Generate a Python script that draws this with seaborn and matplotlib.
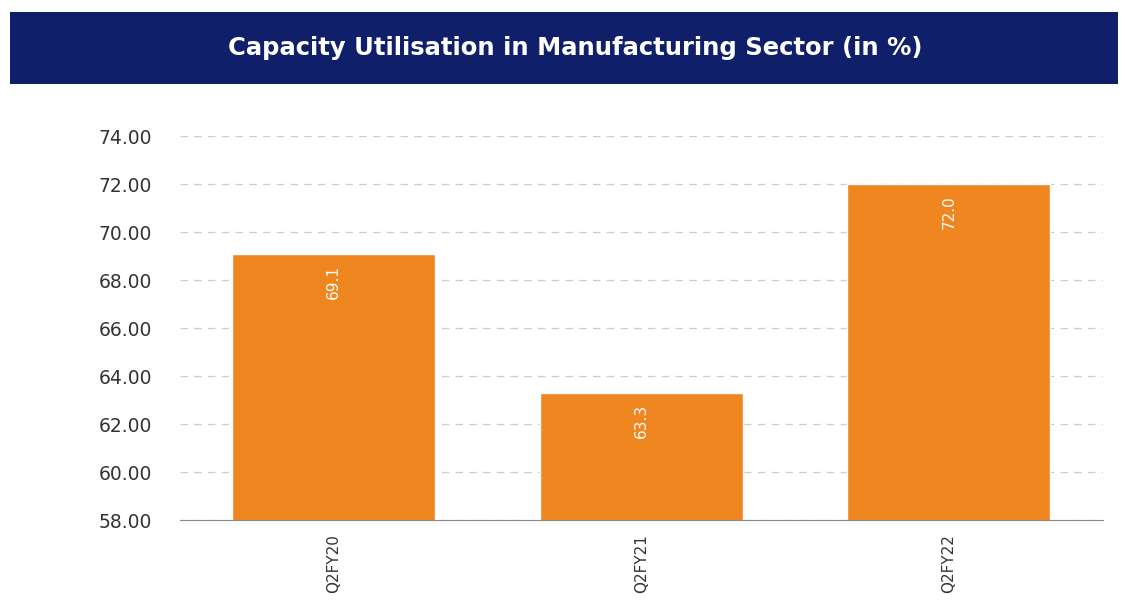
import pandas as pd
import matplotlib.pyplot as plt
from matplotlib.patches import Rectangle
from matplotlib.ticker import FixedLocator
import seaborn as sns

quarters = ["Q2FY20", "Q2FY21", "Q2FY22"]
utilisation = [69.1, 63.3, 72.0]
title = "Capacity Utilisation in Manufacturing Sector (in %)"

sns.set_style("white")
plt.rcParams["font.family"] = ["DejaVu Sans"]

df = pd.DataFrame({"quarter": quarters, "value": utilisation})

fig = plt.figure(figsize=(11.28, 6), dpi=100)

# navy title banner
fig.patches.append(Rectangle((0.009, 0.86), 0.982, 0.12, transform=fig.transFigure,
                             facecolor="#0f1f69", edgecolor="none", zorder=0))
fig.text(0.51, 0.92, title, color="white", fontsize=17.5, fontweight="bold",
         ha="center", va="center")

ax = fig.add_axes([0.1596, 0.1333, 0.818, 0.64])
sns.barplot(data=df, x="quarter", y="value", color="#f08620", saturation=1,
            width=0.66, ax=ax, zorder=2)

ax.set_ylim(58, 74)
ax.set_yticks(range(58, 75, 2))
ax.set_yticklabels([f"{v:.2f}" for v in range(58, 75, 2)], fontsize=13.5, color="#333333")
ax.set_xlim(-0.5, 2.5)
ax.set_xlabel("")
ax.set_ylabel("")

ax.yaxis.grid(True, linestyle=(0, (6, 5)), color="#cccccc", linewidth=0.9, zorder=0)
ax.set_axisbelow(True)

for s in ["top", "right", "left"]:
    ax.spines[s].set_visible(False)
ax.spines["bottom"].set_color("#888888")

ax.tick_params(axis="y", length=0, pad=20)
ax.tick_params(axis="x", which="major", length=0, pad=10)
ax.xaxis.set_minor_locator(FixedLocator([0.5, 1.5]))
ax.tick_params(axis="x", which="minor", length=5, color="#888888")
plt.setp(ax.get_xticklabels(), rotation=90, fontsize=11, color="#333333")

for i, v in enumerate(utilisation):
    ax.annotate(f"{v:.1f}", (i, v), xytext=(0, -8), textcoords="offset points",
                ha="center", va="top", rotation=90, color="white", fontsize=11)

fig.savefig("out.png", dpi=100)
